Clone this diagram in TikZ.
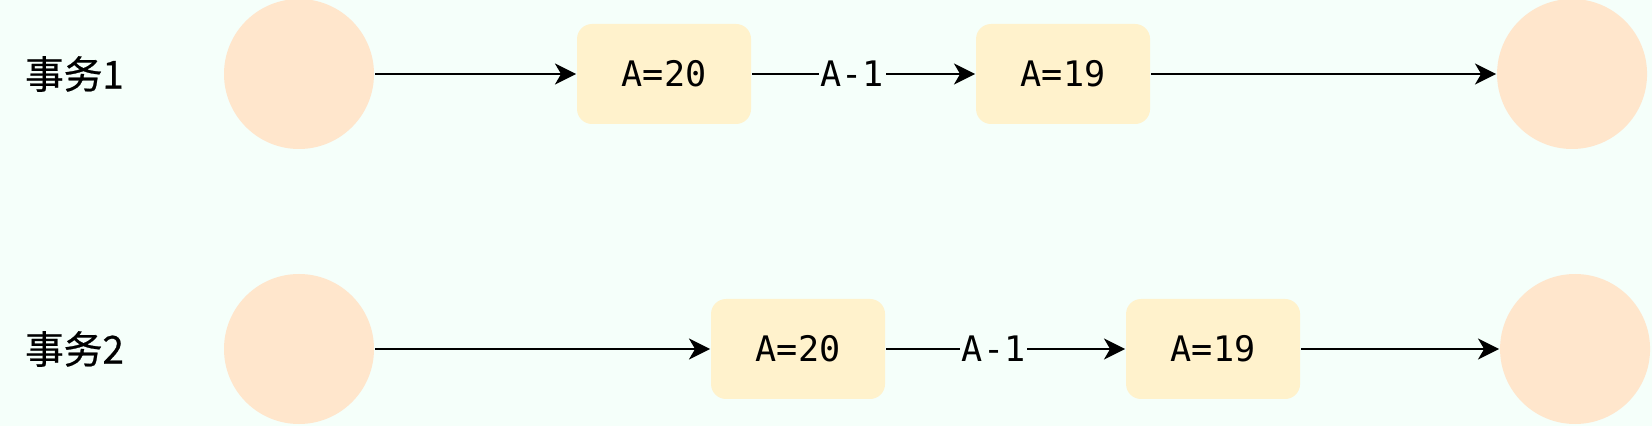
\documentclass[tikz,border=0pt]{standalone}
\usepackage{fontspec}
\setmonofont{DejaVu Sans Mono}
\newfontfamily\cjkfont[FakeBold=0.6]{Noto Sans CJK SC}
\usepackage{xcolor}
\definecolor{colorBack}{HTML}{F5FFFA}
\definecolor{colorEnd}{HTML}{FFE6CC}
\definecolor{colorValue}{HTML}{FFF2CC}
\usetikzlibrary{arrows.meta, positioning}
\tikzset{
  endpoint/.style={circle, fill=colorEnd, minimum size=3cm, inner sep=0pt},
  valbox/.style={rectangle, rounded corners=0.3cm, fill=colorValue, minimum width=3.48cm, minimum height=2cm, inner sep=0pt, font=\ttfamily\fontsize{20}{24}\selectfont},
  txlabel/.style={font=\cjkfont\fontsize{22}{26}\selectfont},
  oplabel/.style={fill=colorBack, inner sep=1pt, pos=0.45, font=\ttfamily\fontsize{20}{24}\selectfont}
}

\begin{document}
\begin{tikzpicture}[>={Stealth[length=12pt, width=12pt, inset=3.5pt]}, line width=1.15pt]
\fill[colorBack] (0,0) rectangle (33.04,-8.52);
\useasboundingbox (0,0) rectangle (33.04,-8.52);
% first transaction
\node[txlabel] (t1) at (1.49,-1.48) {事务1};
\node[endpoint] (t1s) at (5.98,-1.48) {};
\node[valbox, right=4.02cm of t1s] (t1a) {A=20};
\node[valbox, right=4.46cm of t1a] (t1b) {A=19};
\node[endpoint, right=6.90cm of t1b] (t1e) {};
\draw[->] (t1s) -- (t1a);
\draw[->] (t1a) -- node[oplabel] {A-1} (t1b);
\draw[->] (t1b) -- (t1e);
% second transaction
\node[txlabel] (t2) at (1.49,-6.98) {事务2};
\node[endpoint] (t2s) at (5.98,-6.98) {};
\node[valbox, right=6.70cm of t2s] (t2a) {A=20};
\node[valbox, right=4.78cm of t2a] (t2b) {A=19};
\node[endpoint, right=3.96cm of t2b] (t2e) {};
\draw[->] (t2s) -- (t2a);
\draw[->] (t2a) -- node[oplabel] {A-1} (t2b);
\draw[->] (t2b) -- (t2e);
\end{tikzpicture}
\end{document}
